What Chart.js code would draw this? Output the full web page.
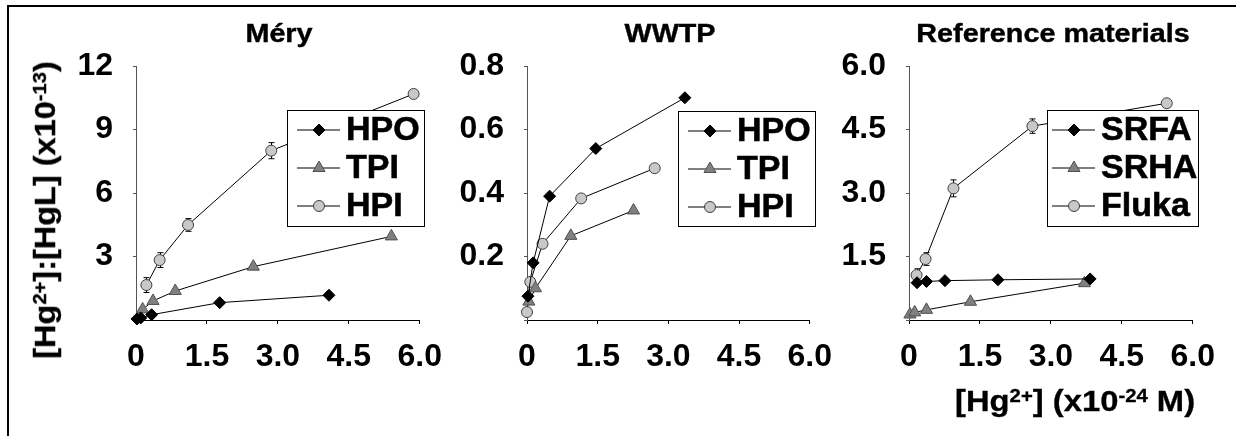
<!DOCTYPE html>
<html>
<head>
<meta charset="utf-8">
<script src="https://cdn.jsdelivr.net/npm/chart.js@4.4.1/dist/chart.umd.min.js"></script>
<style>
  html, body { margin: 0; padding: 0; background: #fff; }
  body { width: 1236px; height: 436px; position: relative; overflow: hidden;
         font-family: "Liberation Sans", Arial, sans-serif; font-weight: bold; color: #000; }
  .frame { position: absolute; left: 7px; top: 5px; right: -10px; bottom: -10px;
           border-top: 2px solid #000; border-left: 2px solid #000; }
  canvas.panel { position: absolute; top: 0; }
  .ttl { position: absolute; top: 19px; font-size: 25px; line-height: 28px; white-space: nowrap;
         -webkit-text-stroke: 0.4px #000; transform: translateX(-50%) scaleX(1.15); }
  .ytitle { position: absolute; left: 45px; top: 210px; font-size: 29px; line-height: 32px; white-space: nowrap;
            -webkit-text-stroke: 0.3px #000; transform: translate(-50%, -50%) rotate(-90deg) scaleX(1.12); }
  .xtitle { position: absolute; left: 955px; top: 385px; font-size: 29px; line-height: 32px; white-space: nowrap;
            -webkit-text-stroke: 0.3px #000; transform: scaleX(1.13); transform-origin: 0 0; }
  sup { font-size: 0.62em; line-height: 0; vertical-align: 0.5em; }
</style>
</head>
<body>
<div class="frame"></div>
<canvas id="c1" class="panel" width="406" height="380" style="left:50px"></canvas>
<canvas id="c2" class="panel" width="405" height="380" style="left:441px"></canvas>
<canvas id="c3" class="panel" width="406" height="380" style="left:823px"></canvas>
<div class="ttl" style="left:279px">Méry</div>
<div class="ttl" style="left:670px">WWTP</div>
<div class="ttl" style="left:1053px">Reference materials</div>
<div class="ytitle">[Hg<sup>2+</sup>]:[HgL] (x10<sup>-13</sup>)</div>
<div class="xtitle">[Hg<sup>2+</sup>] (x10<sup>-24</sup> M)</div>
<script>
// x ticks shared by all three panels
const xTicks = [0, 1.5, 3.0, 4.5, 6.0];

// Méry
const meryHpoX = [0.02, 0.1, 0.33, 1.77, 4.08];
const meryHpoY = [0.05, 0.1, 0.25, 0.82, 1.17];
const meryTpiX = [0.14, 0.36, 0.83, 2.48, 5.4];
const meryTpiY = [0.5, 0.9, 1.37, 2.52, 3.95];
const meryHpiX = [0.22, 0.5, 1.1, 2.86, 5.87];
const meryHpiY = [1.65, 2.83, 4.49, 8.0, 10.68];
const meryHpiErr = [0.35, 0.35, 0.3, 0.38, 0.1];
const meryYTicks = [0, 3, 6, 9, 12];

// WWTP
const wwtpHpoX = [0.02, 0.13, 0.48, 1.46, 3.35];
const wwtpHpoY = [0.075, 0.18, 0.39, 0.54, 0.70];
const wwtpTpiX = [0.04, 0.18, 0.93, 2.26];
const wwtpTpiY = [0.058, 0.1, 0.265, 0.345];
const wwtpHpiX = [0.0, 0.07, 0.33, 1.15, 2.71];
const wwtpHpiY = [0.025, 0.12, 0.24, 0.383, 0.478];
const wwtpYTicks = [0, 0.2, 0.4, 0.6, 0.8];

// Reference materials
const srfaX = [0.17, 0.37, 0.76, 1.88, 3.83];
const srfaY = [0.88, 0.91, 0.93, 0.95, 0.97];
const srhaX = [0.02, 0.12, 0.37, 1.3, 3.71];
const srhaY = [0.13, 0.18, 0.24, 0.43, 0.87];
const flukaX = [0.16, 0.35, 0.94, 2.61, 5.45];
const flukaY = [1.06, 1.44, 3.11, 4.58, 5.12];
const flukaErr = [0.15, 0.15, 0.2, 0.17, 0.05];
const refYTicks = [0, 1.5, 3.0, 4.5, 6.0];

const FONT = '"Liberation Sans", Arial, sans-serif';
const pts = (xs, ys) => xs.map((x, i) => ({ x, y: ys[i] }));

const marker = {
  diamond: { pointStyle: 'rectRot', pointRadius: 6, pointBackgroundColor: '#000', pointBorderColor: '#000' },
  triangle: { pointStyle: 'triangle', pointRadius: 7, pointBackgroundColor: '#808080', pointBorderColor: '#505050' },
  circle: { pointStyle: 'circle', pointRadius: 5.5, pointBackgroundColor: '#c8c8c8', pointBorderColor: '#404040' }
};

function series(label, xs, ys, kind, errs) {
  return Object.assign({
    label, data: pts(xs, ys), errors: errs, showLine: true, clip: false,
    borderColor: '#000', borderWidth: 1, pointBorderWidth: 1
  }, marker[kind]);
}

// error bars drawn under the markers
const errorBars = {
  id: 'errorBars',
  beforeDatasetsDraw(chart) {
    const { ctx, scales: { x, y } } = chart;
    ctx.save();
    ctx.strokeStyle = '#000'; ctx.lineWidth = 1;
    chart.data.datasets.forEach(ds => {
      if (!ds.errors) return;
      ds.data.forEach((p, i) => {
        const e = ds.errors[i];
        if (!e) return;
        const px = Math.round(x.getPixelForValue(p.x)) + 0.5;
        const t = y.getPixelForValue(p.y + e), b = y.getPixelForValue(p.y - e);
        ctx.beginPath();
        ctx.moveTo(px, t); ctx.lineTo(px, b);
        ctx.moveTo(px - 3, t); ctx.lineTo(px + 3, t);
        ctx.moveTo(px - 3, b); ctx.lineTo(px + 3, b);
        ctx.stroke();
      });
    });
    ctx.restore();
  }
};

// boxed legend drawn over the lines
const boxLegend = {
  id: 'boxLegend',
  afterDatasetsDraw(chart, args, o) {
    const ctx = chart.ctx;
    ctx.save();
    ctx.fillStyle = '#fff';
    ctx.fillRect(o.x, o.y, o.w, o.h);
    ctx.strokeStyle = '#000'; ctx.lineWidth = 1;
    ctx.strokeRect(o.x + 0.5, o.y + 0.5, o.w, o.h);
    chart.data.datasets.forEach((ds, i) => {
      const cy = o.y + 20 + i * 38;
      const x0 = o.x + o.pad;
      ctx.beginPath();
      ctx.moveTo(x0, cy); ctx.lineTo(x0 + 43, cy);
      ctx.strokeStyle = '#000'; ctx.lineWidth = 1;
      ctx.stroke();
      ctx.fillStyle = ds.pointBackgroundColor;
      ctx.strokeStyle = ds.pointBorderColor;
      Chart.helpers.drawPoint(ctx, { pointStyle: ds.pointStyle, radius: ds.pointRadius, borderWidth: 1 }, x0 + 22, cy);
      ctx.fillStyle = '#000';
      ctx.strokeStyle = '#000'; ctx.lineWidth = 0.6;
      ctx.font = 'bold 34px ' + FONT;
      ctx.textBaseline = 'middle';
      ctx.fillText(ds.label, x0 + 49, cy + 1);
      ctx.strokeText(ds.label, x0 + 49, cy + 1);
    });
    ctx.restore();
  }
};

function makePanel(id, datasets, yTicks, yFmt, legendPos) {
  const yMax = yTicks[yTicks.length - 1];
  new Chart(document.getElementById(id), {
    type: 'scatter',
    data: { datasets },
    plugins: [errorBars, boxLegend],
    options: {
      responsive: false, animation: false,
      layout: { padding: { top: 66, right: 30, left: 0, bottom: 0 } },
      plugins: { legend: { display: false }, tooltip: { enabled: false }, boxLegend: legendPos },
      scales: {
        x: {
          type: 'linear', min: xTicks[0], max: xTicks[xTicks.length - 1],
          afterBuildTicks: s => { s.ticks = xTicks.map(v => ({ value: v })); },
          ticks: { callback: v => v === 0 ? '0' : v.toFixed(1), font: { size: 32, weight: 'bold', family: FONT },
                   color: '#000', padding: 14, maxRotation: 0, autoSkip: false },
          grid: { drawOnChartArea: false, tickLength: 4, color: '#000' },
          border: { color: '#000', width: 1 },
          afterFit: s => { s.height = 60; }
        },
        y: {
          min: 0, max: yMax,
          afterBuildTicks: s => { s.ticks = yTicks.map(v => ({ value: v })); },
          ticks: { callback: v => v === 0 ? '' : yFmt(v), font: { size: 32, weight: 'bold', family: FONT },
                   color: '#000', padding: 20 },
          grid: { drawOnChartArea: false, tickLength: 3, color: '#555' },
          border: { color: '#555', width: 1 },
          afterFit: s => { s.width = 86; }
        }
      }
    }
  });
}

makePanel('c1', [
  series('HPO', meryHpoX, meryHpoY, 'diamond'),
  series('TPI', meryTpiX, meryTpiY, 'triangle'),
  series('HPI', meryHpiX, meryHpiY, 'circle', meryHpiErr)
], meryYTicks, v => String(v), { x: 237, y: 110, w: 137, h: 116, pad: 10 });

makePanel('c2', [
  series('HPO', wwtpHpoX, wwtpHpoY, 'diamond'),
  series('TPI', wwtpTpiX, wwtpTpiY, 'triangle'),
  series('HPI', wwtpHpiX, wwtpHpiY, 'circle')
], wwtpYTicks, v => v.toFixed(1), { x: 237, y: 111, w: 137, h: 115, pad: 10 });

makePanel('c3', [
  series('SRFA', srfaX, srfaY, 'diamond'),
  series('SRHA', srhaX, srhaY, 'triangle'),
  series('Fluka', flukaX, flukaY, 'circle', flukaErr)
], refYTicks, v => v.toFixed(1), { x: 224, y: 110, w: 151, h: 116, pad: 5 });
</script>
</body>
</html>
